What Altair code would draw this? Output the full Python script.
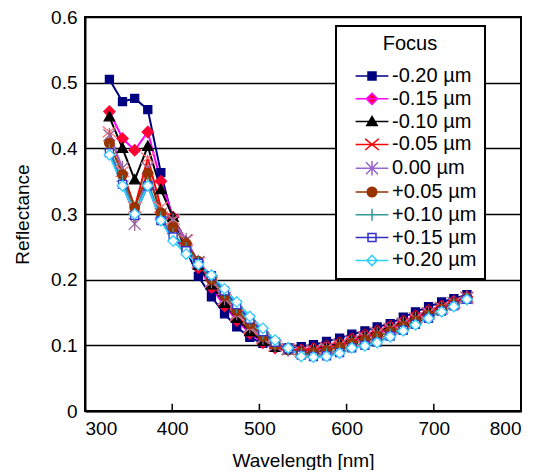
import altair as alt
import pandas as pd

wavelength = [328, 343, 357, 372, 387, 401, 416, 430, 445, 460, 474, 489, 504, 518, 533,
              548, 562, 577, 592, 606, 621, 635, 650, 665, 679, 694, 709, 723, 738]

focus_labels = ["-0.20 µm", "-0.15 µm", "-0.10 µm", "-0.05 µm", "0.00 µm",
                "+0.05 µm", "+0.10 µm", "+0.15 µm", "+0.20 µm"]

refl_m020 = [0.505, 0.471, 0.476, 0.459, 0.363, 0.290, 0.245, 0.205, 0.174, 0.148, 0.128, 0.112, 0.103, 0.097, 0.096,
             0.098, 0.101, 0.106, 0.111, 0.117, 0.122, 0.128, 0.133, 0.143, 0.151, 0.159, 0.166, 0.171, 0.177]
refl_m015 = [0.456, 0.415, 0.397, 0.425, 0.350, 0.295, 0.255, 0.218, 0.188, 0.160, 0.138, 0.118, 0.104, 0.096, 0.093,
             0.093, 0.095, 0.099, 0.104, 0.110, 0.116, 0.122, 0.129, 0.137, 0.145, 0.153, 0.160, 0.167, 0.174]
refl_m010 = [0.448, 0.400, 0.352, 0.403, 0.337, 0.295, 0.258, 0.222, 0.192, 0.164, 0.141, 0.121, 0.106, 0.097, 0.093,
             0.092, 0.094, 0.098, 0.103, 0.109, 0.115, 0.121, 0.128, 0.136, 0.144, 0.152, 0.159, 0.166, 0.173]
refl_m005 = [0.425, 0.365, 0.310, 0.385, 0.310, 0.292, 0.260, 0.226, 0.196, 0.170, 0.146, 0.126, 0.110, 0.099, 0.094,
             0.091, 0.092, 0.096, 0.101, 0.107, 0.113, 0.119, 0.126, 0.134, 0.142, 0.150, 0.158, 0.165, 0.173]
refl_000 = [0.420, 0.370, 0.285, 0.370, 0.300, 0.290, 0.260, 0.227, 0.198, 0.172, 0.149, 0.129, 0.112, 0.100, 0.094,
            0.090, 0.091, 0.094, 0.099, 0.105, 0.111, 0.117, 0.124, 0.132, 0.140, 0.148, 0.156, 0.164, 0.172]
refl_p005 = [0.408, 0.360, 0.310, 0.362, 0.302, 0.280, 0.255, 0.228, 0.200, 0.176, 0.153, 0.133, 0.114, 0.101, 0.095,
             0.089, 0.089, 0.092, 0.097, 0.103, 0.108, 0.114, 0.121, 0.129, 0.137, 0.146, 0.155, 0.163, 0.172]
refl_p010 = [0.398, 0.350, 0.300, 0.348, 0.295, 0.270, 0.248, 0.226, 0.204, 0.180, 0.158, 0.137, 0.118, 0.103, 0.095,
             0.087, 0.085, 0.087, 0.092, 0.098, 0.103, 0.109, 0.117, 0.125, 0.134, 0.143, 0.153, 0.162, 0.171]
refl_p015 = [0.393, 0.345, 0.298, 0.343, 0.290, 0.265, 0.244, 0.225, 0.206, 0.183, 0.162, 0.140, 0.121, 0.105, 0.095,
             0.085, 0.083, 0.084, 0.089, 0.096, 0.100, 0.105, 0.114, 0.123, 0.132, 0.141, 0.152, 0.160, 0.170]
refl_p020 = [0.390, 0.343, 0.300, 0.343, 0.290, 0.259, 0.239, 0.223, 0.207, 0.186, 0.166, 0.144, 0.126, 0.108, 0.096,
             0.083, 0.082, 0.083, 0.088, 0.096, 0.099, 0.104, 0.113, 0.122, 0.131, 0.141, 0.151, 0.159, 0.170]

x_tick_values = [300, 400, 500, 600, 700, 800]
y_tick_values = [0, 0.1, 0.2, 0.3, 0.4, 0.5, 0.6]
inner_ticks = [400, 500, 600, 700]

series = [refl_m020, refl_m015, refl_m010, refl_m005, refl_000,
          refl_p005, refl_p010, refl_p015, refl_p020]

rows = []
for lab, vals in zip(focus_labels, series):
    for w, r in zip(wavelength, vals):
        rows.append({"wavelength": w, "reflectance": r, "focus": lab})
df = pd.DataFrame(rows)
ticks_df = pd.DataFrame({"wavelength": inner_ticks})

line_colors = ["#000080", "#FF00FF", "#000000", "#FF0000", "#9966CC",
               "#993300", "#339999", "#3333CC", "#33CCFF"]
marker_stroke = ["#000080", "#FF0033", "#000000", "#FF7777", "#996699",
                 "#993300", "#339999", "#3333CC", "#33CCFF"]
marker_fill = ["#000080", "#FF0033", "#000000", "#FF7777", "#996699",
               "#993300", "#339999", "#FFFFFF", "#FFFFFF"]

marker_paths = [
    "M-1,-1H1V1H-1Z",
    "M0,-1.4L1.4,0L0,1.4L-1.4,0Z",
    "M0,-1.3L1.3,1H-1.3Z",
    "M-1.7,-1.4L1.7,1.4M-1.7,1.4L1.7,-1.4",
    "M-1.5,-1.5L1.5,1.5M-1.5,1.5L1.5,-1.5M0,-1.8V1.8",
    "M1.2,0A1.2,1.2 0 1,1 -1.2,0A1.2,1.2 0 1,1 1.2,0Z",
    "M-1.5,0H1.5M0,-1.5V1.5",
    "M-1,-1H1V1H-1Z",
    "M0,-1.3L1.3,0L0,1.3L-1.3,0Z",
]
legend_paths = ["M-4.1,0H4.1" + p for p in marker_paths]

FONT = "Liberation Sans"

x_enc = alt.X("wavelength:Q", scale=alt.Scale(domain=[300, 800], nice=False),
              axis=alt.Axis(title="Wavelength [nm]", values=x_tick_values, grid=False,
                            ticks=False, labelPadding=8, titlePadding=13))
y_enc = alt.Y("reflectance:Q", scale=alt.Scale(domain=[0, 0.6], nice=False),
              axis=alt.Axis(title="Reflectance", values=y_tick_values, grid=True,
                            ticks=False, labelPadding=8, titlePadding=18,
                            labelExpr="datum.value == 0 ? '0' : format(datum.value, '.1f')"))

lines = alt.Chart(df).mark_line(strokeWidth=2).encode(
    x=x_enc, y=y_enc,
    color=alt.Color("focus:N", scale=alt.Scale(domain=focus_labels, range=line_colors), legend=None),
)

points = alt.Chart(df).mark_point(size=64, strokeWidth=1.3, opacity=1, filled=False).encode(
    x=x_enc, y=y_enc,
    shape=alt.Shape("focus:N", scale=alt.Scale(domain=focus_labels, range=marker_paths), legend=None),
    stroke=alt.Stroke("focus:N", scale=alt.Scale(domain=focus_labels, range=marker_stroke), legend=None),
    fill=alt.Fill("focus:N", scale=alt.Scale(domain=focus_labels, range=marker_fill), legend=None),
)

legend_def = alt.Legend(
    title="Focus", orient="none", legendX=251, legendY=9,
    strokeColor="#000000", fillColor="#FFFFFF", padding=8,
    titleFont=FONT, titleFontSize=20, titleFontWeight="normal", titleColor="#000000",
    titleAnchor="middle", titlePadding=12,
    labelFont=FONT, labelFontSize=20, labelColor="#000000",
    symbolSize=64, symbolStrokeWidth=1.5, symbolOpacity=1,
    symbolOffset=18, labelOffset=10, rowPadding=2.8,
)

legend_layer = alt.Chart(df).mark_point(size=64, opacity=0, filled=False).encode(
    x=x_enc, y=y_enc,
    shape=alt.Shape("focus:N", scale=alt.Scale(domain=focus_labels, range=legend_paths), legend=legend_def),
    stroke=alt.Stroke("focus:N", scale=alt.Scale(domain=focus_labels, range=line_colors), legend=legend_def),
    fill=alt.Fill("focus:N", scale=alt.Scale(domain=focus_labels, range=marker_fill), legend=legend_def),
)

tick_marks = alt.Chart(ticks_df).mark_rule(color="#000000", strokeWidth=1.5).encode(
    x="wavelength:Q", y=alt.datum(0), y2=alt.datum(0.011)
)

chart = alt.layer(lines, points, tick_marks, legend_layer).resolve_scale(
    shape="independent", stroke="independent", fill="independent"
).properties(
    width=436, height=394,
    padding={"left": 5, "top": 0, "right": 5, "bottom": 0},
).configure_view(
    stroke="#000000", strokeWidth=2
).configure_axis(
    labelFont=FONT, titleFont=FONT, labelFontSize=19, titleFontSize=19,
    titleFontWeight="normal", labelColor="#000000", titleColor="#000000",
    domainColor="#000000", domainWidth=2, gridColor="#000000", gridWidth=1.5,
    gridOpacity=1
).configure_legend(
    strokeWidth=2
)

chart.save("out.html", embed_options={"renderer": "svg", "actions": False})
